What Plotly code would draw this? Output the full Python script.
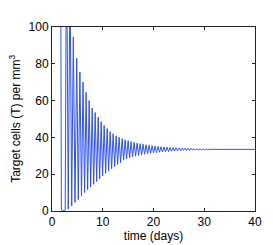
import plotly.graph_objects as go

# Start of curve (days, cells per mm^3): high initial value, sharp drop to ~0
start_t = [0.0, 1.70, 1.85, 2.10, 2.60]
start_v = [300, 150, 0.5, 0.0, 0.5]

# Local maxima of the oscillation
peak_t = [2.86, 3.55, 4.20, 4.87, 5.50, 6.12, 6.72, 7.32, 7.92, 8.51, 9.10, 9.69,
          10.28, 10.87, 11.46, 12.05, 12.64, 13.23, 13.82, 14.41, 15.00, 15.59,
          16.18, 16.77, 17.36, 17.95, 18.54, 19.13, 19.72, 20.31, 20.90, 21.49,
          22.08, 22.67, 23.26, 23.85, 24.44, 25.03, 25.62, 26.21, 26.80, 27.39,
          27.98, 28.57, 29.16, 29.75, 30.34]
peak_v = [160, 130, 94.5, 83, 75.5, 70, 64.5, 60, 56, 53.5, 51, 48.6,
          46.5, 44.8, 43.2, 42, 40.9, 40.1, 39.3, 38.7, 38.2, 37.7,
          37.3, 36.9, 36.6, 36.3, 36.0, 35.75, 35.5, 35.3, 35.1, 34.95,
          34.8, 34.7, 34.55, 34.45, 34.35, 34.25, 34.2, 34.1, 34.05, 34.0,
          33.95, 33.9, 33.85, 33.8, 33.78]

# Local minima of the oscillation
trough_t = [3.20, 3.88, 4.53, 5.18, 5.81, 6.42, 7.02, 7.62, 8.21, 8.80, 9.39, 9.98,
            10.57, 11.16, 11.75, 12.34, 12.93, 13.52, 14.11, 14.70, 15.29, 15.88,
            16.47, 17.06, 17.65, 18.24, 18.83, 19.42, 20.01, 20.60, 21.19, 21.78,
            22.37, 22.96, 23.55, 24.14, 24.73, 25.32, 25.91, 26.50, 27.09, 27.68,
            28.27, 28.86, 29.45, 30.04, 30.63]
trough_v = [1.0, 2.7, 4.6, 6.2, 8.2, 10, 11.5, 13, 14.5, 16, 17.5, 19,
            20.5, 21.8, 23, 24.2, 25.2, 26.2, 27.6, 28.4, 28.9, 29.4,
            29.8, 30.15, 30.5, 30.8, 31.1, 31.3, 31.55, 31.75, 31.9, 32.1,
            32.25, 32.35, 32.5, 32.6, 32.7, 32.78, 32.85, 32.92, 32.98, 33.03,
            33.08, 33.12, 33.17, 33.2, 33.23]

# Steady state tail
end_t = [31.0, 40.0]
end_v = [33.5, 33.5]

x_tick_vals = [0, 10, 20, 30, 40]
y_tick_vals = [0, 20, 40, 60, 80, 100]

t_all = list(start_t)
v_all = list(start_v)
for i in range(len(peak_t)):
    t_all.append(peak_t[i]); v_all.append(peak_v[i])
    t_all.append(trough_t[i]); v_all.append(trough_v[i])
t_all += end_t
v_all += end_v

FONT = "Liberation Sans, Arial"

fig = go.Figure()
fig.add_trace(go.Scatter(x=t_all, y=v_all, mode="lines",
                         line=dict(color="rgb(45,80,255)", width=1),
                         showlegend=False, hoverinfo="skip"))

axis_common = dict(showline=True, linecolor="#222222", linewidth=1, mirror="ticks",
                   ticks="inside", ticklen=3, tickcolor="#222222", showgrid=False,
                   zeroline=False, tickfont=dict(family=FONT, size=12, color="black"))

fig.update_xaxes(range=[0, 40], tickvals=x_tick_vals,
                 title=dict(text="time (days)", standoff=3,
                            font=dict(family=FONT, size=12, color="black")),
                 **axis_common)
fig.update_yaxes(range=[0, 100], tickvals=y_tick_vals, **axis_common)

fig.add_annotation(text="Target cells (T) per mm<sup>3</sup>", xref="paper", yref="paper",
                   x=-0.183, y=0.5, xanchor="center", yanchor="middle", textangle=-90,
                   showarrow=False, font=dict(family=FONT, size=12, color="black"))

fig.update_layout(width=273, height=245, margin=dict(l=44, r=26, t=18, b=33),
                  paper_bgcolor="white", plot_bgcolor="white")

fig.write_html("out.html")
